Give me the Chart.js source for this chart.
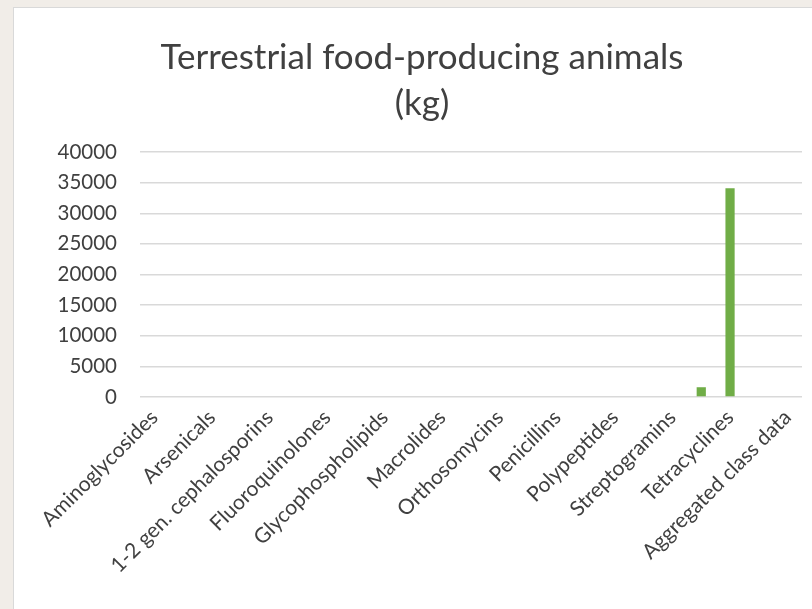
<!DOCTYPE html>
<html>
<head>
<meta charset="utf-8">
<script src="https://cdn.jsdelivr.net/npm/chart.js@4.4.1/dist/chart.umd.min.js"></script>
<style>
  html, body { margin: 0; padding: 0; }
  body { width: 812px; height: 609px; background: #f1ede8; position: relative; overflow: hidden; }
  #panel {
    position: absolute; left: 13px; top: 7px; width: 817px; height: 602px;
    background: #fff; border-left: 1px solid #d9d9d9; border-top: 1px solid #d9d9d9;
  }
</style>
</head>
<body>
<div id="panel"><canvas id="barChart" width="816" height="601"></canvas></div>
<script>
// Terrestrial food-producing animals (kg), per antimicrobial class

const classes = [
  'Aminoglycosides', 'Amphenicols', 'Arsenicals', 'Cephalosporins',
  '1-2 gen. cephalosporins', '3-4 gen. cephalosporins', 'Fluoroquinolones', 'Glycopeptides',
  'Glycophospholipids', 'Lincosamides', 'Macrolides', 'Nitrofurans',
  'Orthosomycins', 'Other quinolones', 'Penicillins', 'Pleuromutilins',
  'Polypeptides', 'Quinoxalines', 'Streptogramins', 'Sulfonamides',
  'Tetracyclines', 'Others', 'Aggregated class data'
];
const kg = [0, 0, 0, 0, 0, 0, 0, 0, 0, 0, 0, 0, 0, 0, 0, 0, 0, 0, 0, 1600, 34100, 0, 0];
const yTicks = [0, 5000, 10000, 15000, 20000, 25000, 30000, 35000, 40000];

const ctx = document.getElementById('barChart').getContext('2d');
new Chart(ctx, {
  type: 'bar',
  data: {
    labels: classes,
    datasets: [{
      label: 'kg',
      data: kg,
      backgroundColor: '#70ad47',
      categoryPercentage: 1,
      barPercentage: 0.32
    }]
  },
  options: {
    responsive: false,
    animation: false,
    layout: { padding: { top: 27, right: 28, bottom: 31, left: 28 } },
    scales: {
      x: {
        grid: { display: false },
        border: { display: false },
        ticks: {
          autoSkip: false,
          maxRotation: 45,
          minRotation: 45,
          padding: 0,
          color: '#404040',
          font: { family: 'Lato', size: 21 },
          // every second class name is shown, like the original
          callback: function (value, index) {
            return index % 2 === 0 ? this.getLabelForValue(value) : '';
          }
        }
      },
      y: {
        min: yTicks[0],
        max: yTicks[yTicks.length - 1],
        afterBuildTicks: (axis) => { axis.ticks = yTicks.map(v => ({ value: v })); },
        afterFit: (axis) => { axis.width = 98; },
        grid: { color: '#d9d9d9', lineWidth: 1.5, drawTicks: false },
        border: { display: false },
        ticks: {
          padding: 23,
          color: '#404040',
          font: { family: 'Lato', size: 20.5 },
          callback: (v) => String(v)
        }
      }
    },
    plugins: {
      legend: { display: false },
      tooltip: { enabled: false },
      title: {
        display: true,
        text: ['Terrestrial food-producing animals', '(kg)'],
        color: '#404040',
        font: { family: 'Lato', size: 35, weight: 'normal', lineHeight: 1.3 },
        padding: { top: 0, bottom: 26 }
      }
    }
  }
});
</script>
</body>
</html>
